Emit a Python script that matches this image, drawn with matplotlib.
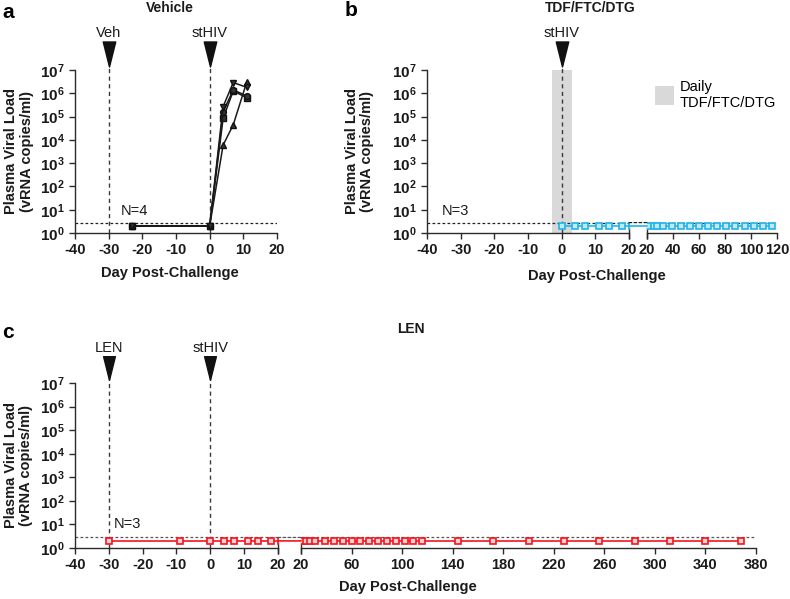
import matplotlib
matplotlib.use("Agg")
import matplotlib.pyplot as plt
from matplotlib.patches import ConnectionPatch, Patch
from matplotlib.path import Path
import numpy as np

plt.rcParams['font.family'] = ['Liberation Sans', 'DejaVu Sans']
plt.rcParams['mathtext.fontset'] = 'custom'
plt.rcParams['mathtext.rm'] = 'Liberation Sans'
plt.rcParams['mathtext.bf'] = 'Liberation Sans:bold'
plt.rcParams['mathtext.it'] = 'Liberation Sans:italic'
plt.rcParams['mathtext.default'] = 'bf'

# ---------------- data ----------------
LOD = 2.8
days_a = [-23, 0, 4, 7, 11]
veh_v = [2, 2, 2.7e5, 2.9e6, 1.8e6]
veh_o = [2, 2, 1.6e5, 1.4e6, 7.7e5]
veh_s = [2, 2, 8.5e4, 1.25e6, 6.5e5]
veh_t = [2, 2, 6.0e3, 4.4e4, 3.0e6]

days_b = [0, 4, 7, 11, 14, 18, 21, 25, 28, 32, 39, 46, 53, 60, 67, 74, 81,
          88, 95, 102, 109, 116]
vl_b = [2] * len(days_b)

days_c = [-30, -9, 0, 4, 7, 11, 14, 18, 21, 24, 27, 31, 39, 46, 53, 60, 67,
          74, 81, 88, 95, 102, 109, 116, 144, 172, 200, 228, 256, 284, 312,
          340, 368]
vl_c = [2] * len(days_c)

yticks = [1e0, 1e1, 1e2, 1e3, 1e4, 1e5, 1e6, 1e7]
ytick_labels = [r'$10^{%d}$' % i for i in range(8)]
xt_left = [-40, -30, -20, -10, 0, 10, 20]
xt_b_right = [20, 40, 60, 80, 100, 120]
xt_c_right = [20, 60, 100, 140, 180, 220, 260, 300, 340, 380]

CYAN = '#22b4e6'
CYAN_F = '#bfe9f7'
RED = '#f5141e'
RED_F = '#ffd3d3'
GRAY = '#d9d9d9'
AX_C = '#2a2a2a'

W, H = 790, 599
fig = plt.figure(figsize=(7.9, 5.99), dpi=100)


def px_axes(l, r, t, b):
    return fig.add_axes([l / W, 1 - b / H, (r - l) / W, (b - t) / H])


def style(ax, left=True):
    ax.set_yscale('log')
    ax.set_ylim(1, 1e7)
    for s in ['top', 'right']:
        ax.spines[s].set_visible(False)
    for s in ['left', 'bottom']:
        ax.spines[s].set_color(AX_C)
        ax.spines[s].set_linewidth(1.0)
    ax.tick_params(axis='both', colors=AX_C, length=4.5, width=1.0,
                   labelsize=10.5, pad=3, labelcolor='#1a1a1a')
    ax.tick_params(axis='y', labelsize=11)
    ax.yaxis.set_minor_locator(matplotlib.ticker.NullLocator())
    if left:
        ax.set_yticks(yticks)
        ax.set_yticklabels(ytick_labels)
    else:
        ax.spines['left'].set_visible(False)
        ax.set_yticks([])
    ax.patch.set_alpha(0)


tri = Path([(-0.5, 1.0), (0.5, 1.0), (0.0, -1.0), (-0.5, 1.0)],
           [Path.MOVETO, Path.LINETO, Path.LINETO, Path.CLOSEPOLY])


def arrow(ax, x, label, tri_y, bot_y, lab_y, ms=18):
    tr = ax.get_xaxis_transform()
    ax.plot([x, x], [0, bot_y], transform=tr, color='#3a3a3a', lw=1.0,
            ls=(0, (3, 2.5)), clip_on=False, zorder=1)
    ax.plot([x], [tri_y], transform=tr, marker=tri, ms=ms, color='#111111',
            clip_on=False, ls='none')
    ax.text(x, lab_y, label, transform=tr, ha='center', va='center',
            fontsize=10.5, color='#1a1a1a')


def break_mark(ax, x):
    tr = ax.get_xaxis_transform()
    ax.plot([x], [0], transform=tr, marker='|', ms=9, mew=1.0, color=AX_C,
            clip_on=False)


def ylab(ax, xfrac):
    ax.set_ylabel('Plasma Viral Load\n(vRNA copies/ml)', fontsize=10.5,
                  fontweight='bold', color='#1a1a1a', linespacing=1.1)
    ax.yaxis.set_label_coords(xfrac, 0.5)


def xlabels(ax, vals):
    ax.set_xticks(vals)
    ax.set_xticklabels([str(v) for v in vals], fontweight='bold')


# ---------------- panel a ----------------
axA = px_axes(75, 277, 70, 233)
style(axA)
axA.set_xlim(-40, 20)
xlabels(axA, xt_left)
axA.axhline(LOD, color='#222222', lw=0.9, ls=(0, (2.2, 1.8)), zorder=1)
for vals, mk in [(veh_t, '^'), (veh_s, 's'), (veh_o, 'o'), (veh_v, 'v')]:
    axA.plot(days_a, vals, color='#1a1a1a', lw=1.1, marker=mk, ms=4.2,
             mfc='#333333', mec='#111111', zorder=3, clip_on=False)
arrow(axA, -30, 'Veh', 1.098, 1.043, 1.225)
arrow(axA, 0, 'stHIV', 1.098, 1.043, 1.225)
axA.text(-26.5, 0.135, 'N=4', transform=axA.get_xaxis_transform(),
         fontsize=10.5, va='center', ha='left', color='#1a1a1a')
ylab(axA, -0.205)

# ---------------- panel b ----------------
axBL = px_axes(427, 629, 70, 233)
axBR = px_axes(647, 777, 70, 233)
style(axBL)
style(axBR, left=False)
axBL.set_xlim(-40, 20)
axBR.set_xlim(20, 120)
xlabels(axBL, xt_left)
xlabels(axBR, xt_b_right)
axBL.axvspan(-3, 3, ymin=0, ymax=1, color=GRAY, lw=0, zorder=0)
for ax in (axBL, axBR):
    ax.axhline(LOD, color='#222222', lw=0.9, ls=(0, (2.2, 1.8)), zorder=1)
    ax.plot(days_b, vl_b, color=CYAN, lw=1.2, marker='s', ms=4.6,
            mfc=CYAN_F, mec=CYAN, mew=1.2, zorder=3)
break_mark(axBL, 20)
break_mark(axBR, 20)
fig.add_artist(ConnectionPatch(xyA=(20, 2), coordsA=axBL.transData,
                               xyB=(20, 2), coordsB=axBR.transData,
                               color=CYAN, lw=1.2))
fig.add_artist(ConnectionPatch(xyA=(20, LOD), coordsA=axBL.transData,
                               xyB=(20, LOD), coordsB=axBR.transData,
                               color='#222222', lw=0.9, ls=(0, (2.2, 1.8))))
arrow(axBL, 0, 'stHIV', 1.098, 1.043, 1.225)
axBL.text(-35.5, 0.135, 'N=3', transform=axBL.get_xaxis_transform(),
          fontsize=10.5, va='center', ha='left', color='#1a1a1a')
ylab(axBL, -0.262)
fig.legend(handles=[Patch(facecolor=GRAY, edgecolor='none',
                          label='Daily\nTDF/FTC/DTG')],
           loc='center left', bbox_to_anchor=(655 / W, 1 - 95 / H),
           frameon=False, fontsize=10.5, handlelength=1.3, handleheight=1.6,
           handletextpad=0.4, borderpad=0, borderaxespad=0)

# ---------------- panel c ----------------
axCL = px_axes(75, 278, 383, 548)
axCR = px_axes(301, 756, 383, 548)
style(axCL)
style(axCR, left=False)
axCL.set_xlim(-40, 20)
axCR.set_xlim(20, 380)
xlabels(axCL, xt_left)
xlabels(axCR, xt_c_right)
for ax in (axCL, axCR):
    ax.axhline(LOD, color='#555555', lw=0.9, ls=(0, (2.2, 1.8)), zorder=1)
    ax.plot(days_c, vl_c, color=RED, lw=1.2, marker='s', ms=4.6,
            mfc=RED_F, mec=RED, mew=1.2, zorder=3)
break_mark(axCL, 20)
break_mark(axCR, 20)
fig.add_artist(ConnectionPatch(xyA=(20, 2), coordsA=axCL.transData,
                               xyB=(20, 2), coordsB=axCR.transData,
                               color=RED, lw=1.2))
fig.add_artist(ConnectionPatch(xyA=(20, LOD), coordsA=axCL.transData,
                               xyB=(20, LOD), coordsB=axCR.transData,
                               color='#555555', lw=0.9, ls=(0, (2.2, 1.8))))
arrow(axCL, -30, 'LEN', 1.088, 1.036, 1.21, ms=17)
arrow(axCL, 0, 'stHIV', 1.088, 1.036, 1.21, ms=17)
axCL.text(-28.4, 0.145, 'N=3', transform=axCL.get_xaxis_transform(),
          fontsize=10.5, va='center', ha='left', color='#1a1a1a')
ylab(axCL, -0.205)

# ---------------- titles & labels ----------------
def ftext(x, y, s, **kw):
    fig.text(x / W, 1 - y / H, s, **kw)

ftext(170, 8, 'Vehicle', ha='center', va='center', fontsize=10,
      fontweight='bold', color='#1a1a1a')
ftext(590, 8, 'TDF/FTC/DTG', ha='center', va='center', fontsize=10,
      fontweight='bold', color='#1a1a1a')
ftext(411, 329, 'LEN', ha='center', va='center', fontsize=10,
      fontweight='bold', color='#1a1a1a')
ftext(2, 12, 'a', ha='left', va='center', fontsize=15, fontweight='bold')
ftext(345, 11, 'b', ha='left', va='center', fontsize=15, fontweight='bold')
ftext(2, 332, 'c', ha='left', va='center', fontsize=15, fontweight='bold')
for x, y in [(170, 273), (597, 276), (408, 587)]:
    ftext(x, y, 'Day Post-Challenge', ha='center', va='center',
          fontsize=10.5, fontweight='bold', color='#1a1a1a')

fig.savefig('out.png', dpi=100)
